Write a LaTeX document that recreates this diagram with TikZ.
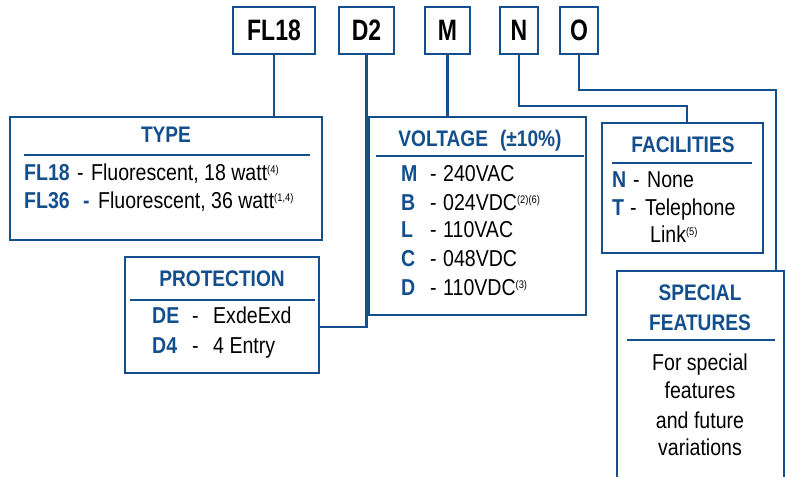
\documentclass[tikz,border=0pt]{standalone}
\usepackage{fontspec}
\setmainfont{Liberation Sans}[FakeStretch=0.85]
\newfontfamily\codefont{Liberation Sans}[FakeStretch=0.78]
\definecolor{navy}{HTML}{134F8C}
\newcommand{\lab}[1]{\textcolor{navy}{\bfseries #1}}
\newcommand{\sups}[1]{\raisebox{6.5pt}{\fontsize{11}{12}\selectfont #1}}
\begin{document}
\begin{tikzpicture}[x=1pt,y=-1pt,
  codebox/.style={draw=navy,line width=1.7pt,inner sep=0pt,font=\codefont\fontsize{29.5}{30}\selectfont\bfseries},
  bigbox/.style={draw=navy,line width=2.6pt,inner sep=0pt},
  conn/.style={draw=navy,line width=2.8pt},
  sep/.style={draw=navy,line width=1.3pt},
  head/.style={font=\fontsize{22.5}{26}\selectfont\bfseries,text=navy,inner sep=0pt,anchor=base},
  row/.style={font=\fontsize{23}{26}\selectfont,inner sep=0pt,anchor=base west},
  body/.style={font=\fontsize{23}{26}\selectfont,inner sep=0pt,anchor=base},
]
\useasboundingbox (0,0) rectangle (786,476);
% code boxes
\node[codebox,minimum width=82,minimum height=47] (c1) at (274,30.5) {FL18};
\node[codebox,minimum width=55,minimum height=47] (c2) at (366.5,30.5) {D2};
\node[codebox,minimum width=45,minimum height=47] (c3) at (447.5,30.5) {M};
\node[codebox,minimum width=38,minimum height=47] (c4) at (519,30.5) {N};
\node[codebox,minimum width=38,minimum height=47] (c5) at (579,30.5) {O};
% main boxes
\node[bigbox,minimum width=312,minimum height=123] (type) at (166,178.5) {};
\node[bigbox,minimum width=194,minimum height=116] (prot) at (222,315) {};
\node[bigbox,minimum width=217,minimum height=198] (volt) at (477.5,216) {};
\node[bigbox,minimum width=161,minimum height=130] (fac) at (682.5,188) {};
\coordinate (sTL) at (617,271);
\coordinate (sTR) at (784,271);
\coordinate (sBL) at (617,480);
\coordinate (sBR) at (784,480);
\draw[navy,line width=2.6pt] (sBL) -- (sTL) -- (sTR) -- (sBR);
% connectors
\draw[conn] (c1.south) -- (c1.south |- type.north);
\coordinate (p2) at (319,327);
\draw[conn] (c2.south) |- (p2);
\draw[conn] (c3.south) -- (c3.south |- volt.north);
\coordinate (kN) at (687,106);
\draw[conn] (c4.south) |- (kN) -- (kN |- fac.north);
\coordinate (kO) at (776,90);
\draw[conn] (c5.south) |- (kO) -- (kO |- sTL);
% separators
\coordinate (tyA) at (24,155); \coordinate (tyB) at (310,155);
\draw[sep] (tyA) -- (tyB);
\coordinate (prA) at (130,300); \coordinate (prB) at (315,300);
\draw[sep] (prA) -- (prB);
\coordinate (voA) at (376,156); \coordinate (voB) at (584,156);
\draw[sep] (voA) -- (voB);
\coordinate (faA) at (612,163); \coordinate (faB) at (752,163);
\draw[sep] (faA) -- (faB);
\coordinate (spA) at (627,340); \coordinate (spB) at (775,340);
\draw[sep] (spA) -- (spB);
% TYPE
\node[head] (tyH) at (166,142) {TYPE};
\node[row] (ty1) at (24,180) {\makebox[53pt][l]{\lab{FL18}}\makebox[14pt][l]{-}Fluorescent, 18 watt\sups{(4)}};
\node[row] (ty2) at (24,208) {\makebox[59pt][l]{\lab{FL36}}\makebox[15pt][l]{\lab{-}}Fluorescent, 36 watt\sups{(1,4)}};
% PROTECTION
\node[head] (prH) at (222,286) {PROTECTION};
\node[row] (pr1) at (152,323) {\makebox[40pt][l]{\lab{DE}}\makebox[21pt][l]{-}ExdeExd};
\node[row] (pr2) at (152,353) {\makebox[40pt][l]{\lab{D4}}\makebox[21pt][l]{-}4 Entry};
% VOLTAGE
\node[head] (voH) at (480,146) {VOLTAGE\hspace{12pt}(±10\%)};
\node[row] (vo1) at (401,181) {\makebox[29pt][l]{\lab{M}}\makebox[13pt][l]{-}240VAC};
\node[row] (vo2) at (401,210) {\makebox[29pt][l]{\lab{B}}\makebox[13pt][l]{-}024VDC\sups{(2)(6)}};
\node[row] (vo3) at (401,237) {\makebox[29pt][l]{\lab{L}}\makebox[13pt][l]{-}110VAC};
\node[row] (vo4) at (401,266) {\makebox[29pt][l]{\lab{C}}\makebox[13pt][l]{-}048VDC};
\node[row] (vo5) at (401,295) {\makebox[29pt][l]{\lab{D}}\makebox[13pt][l]{-}110VDC\sups{(3)}};
% FACILITIES
\node[head] (faH) at (683,152) {FACILITIES};
\node[row] (fa1) at (612,187) {\makebox[21pt][l]{\lab{N}}\makebox[14pt][l]{-}None};
\node[row] (fa2) at (612,215) {\makebox[18pt][l]{\lab{T}}\makebox[15pt][l]{-}Telephone};
\node[row] (fa3) at (650,242) {Link\sups{(5)}};
% SPECIAL FEATURES
\node[head] (spH1) at (700,300) {SPECIAL};
\node[head] (spH2) at (700,330) {FEATURES};
\node[body] (sp1) at (700,370) {For special};
\node[body] (sp2) at (700,398) {features};
\node[body] (sp3) at (700,428) {and future};
\node[body] (sp4) at (700,455) {variations};
\end{tikzpicture}
\end{document}
